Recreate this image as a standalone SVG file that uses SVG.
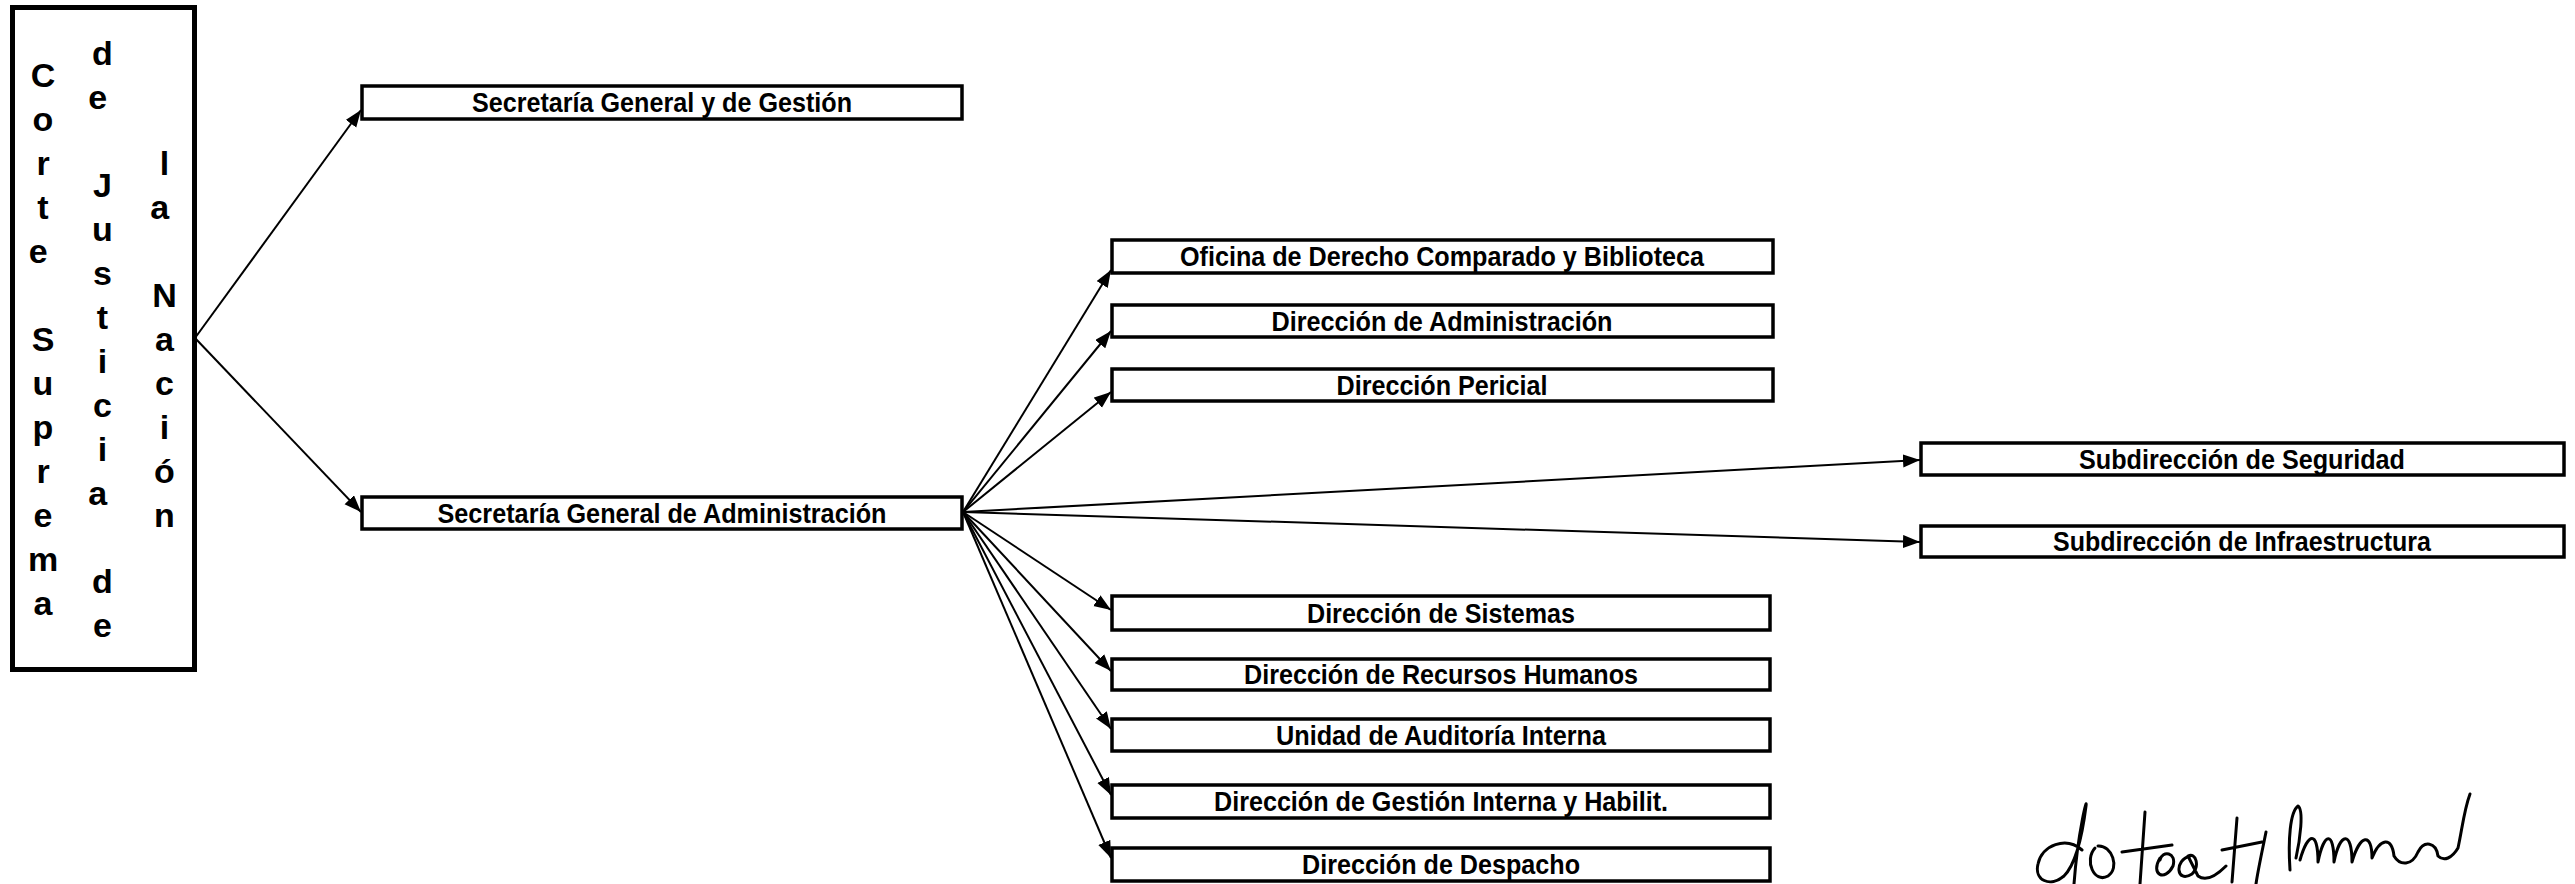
<svg xmlns="http://www.w3.org/2000/svg" width="2575" height="884" viewBox="0 0 2575 884">
<style>
.box{fill:#fff;stroke:#000;stroke-width:3.5}
.lbl{font-family:"Liberation Sans",Arial,sans-serif;font-weight:bold;font-size:28px;fill:#000;text-anchor:middle}
.big{font-family:"Liberation Sans",Arial,sans-serif;font-weight:bold;font-size:34px;fill:#000;text-anchor:middle}
.con{stroke:#000;stroke-width:2;fill:none;marker-end:url(#ah)}
.sig{stroke:#000;stroke-width:3;fill:none;stroke-linecap:round;stroke-linejoin:round}
</style>
<defs>
<marker id="ah" markerUnits="userSpaceOnUse" markerWidth="18" markerHeight="14" refX="17" refY="6.5" orient="auto">
<path d="M0,0 L17,6.5 L0,13 z" fill="#000"/>
</marker>
</defs>
<rect width="2575" height="884" fill="#fff"/>

<g id="connectors">
<line class="con" x1="195" y1="338" x2="361" y2="110"/>
<line class="con" x1="195" y1="338" x2="361" y2="512"/>
<line class="con" x1="963" y1="512" x2="1111" y2="270"/>
<line class="con" x1="963" y1="512" x2="1111" y2="331"/>
<line class="con" x1="963" y1="512" x2="1111" y2="392"/>
<line class="con" x1="963" y1="512" x2="1920" y2="460"/>
<line class="con" x1="963" y1="512" x2="1920" y2="542"/>
<line class="con" x1="963" y1="512" x2="1111" y2="610"/>
<line class="con" x1="963" y1="512" x2="1111" y2="671"/>
<line class="con" x1="963" y1="512" x2="1111" y2="729"/>
<line class="con" x1="963" y1="512" x2="1111" y2="795"/>
<line class="con" x1="963" y1="512" x2="1111" y2="858"/>
</g>

<g id="corte">
<rect x="12.5" y="7.5" width="182" height="662" fill="#fff" stroke="#000" stroke-width="5"/>
<text class="big">
<tspan x="43" y="87">C</tspan><tspan x="43" y="131">o</tspan><tspan x="43" y="175">r</tspan><tspan x="43" y="219">t</tspan><tspan x="43" y="263">e</tspan>
<tspan x="43" y="351">S</tspan><tspan x="43" y="395">u</tspan><tspan x="43" y="439">p</tspan><tspan x="43" y="483">r</tspan><tspan x="43" y="527">e</tspan><tspan x="43" y="571">m</tspan><tspan x="43" y="615">a</tspan>
</text>
<text class="big">
<tspan x="102.5" y="65">d</tspan><tspan x="102.5" y="109">e</tspan>
<tspan x="102.5" y="197">J</tspan><tspan x="102.5" y="241">u</tspan><tspan x="102.5" y="285">s</tspan><tspan x="102.5" y="329">t</tspan><tspan x="102.5" y="373">i</tspan><tspan x="102.5" y="417">c</tspan><tspan x="102.5" y="461">i</tspan><tspan x="102.5" y="505">a</tspan>
<tspan x="102.5" y="593">d</tspan><tspan x="102.5" y="637">e</tspan>
</text>
<text class="big">
<tspan x="164.5" y="175">l</tspan><tspan x="164.5" y="219">a</tspan>
<tspan x="164.5" y="307">N</tspan><tspan x="164.5" y="351">a</tspan><tspan x="164.5" y="395">c</tspan><tspan x="164.5" y="439">i</tspan><tspan x="164.5" y="483">ó</tspan><tspan x="164.5" y="527">n</tspan>
</text>
</g>

<g id="sg-gestion">
<rect class="box" x="362" y="86" width="600" height="33"/>
<text class="lbl" x="662" y="112" textLength="380" lengthAdjust="spacingAndGlyphs">Secretaría General y de Gestión</text>
</g>
<g id="sg-administracion">
<rect class="box" x="362" y="497" width="600" height="32"/>
<text class="lbl" x="662" y="523" textLength="449" lengthAdjust="spacingAndGlyphs">Secretaría General de Administración</text>
</g>
<g id="oficina">
<rect class="box" x="1112" y="240" width="661" height="33"/>
<text class="lbl" x="1442" y="266" textLength="524" lengthAdjust="spacingAndGlyphs">Oficina de Derecho Comparado y Biblioteca</text>
</g>
<g id="dir-admin">
<rect class="box" x="1112" y="305" width="661" height="32"/>
<text class="lbl" x="1442" y="331" textLength="341" lengthAdjust="spacingAndGlyphs">Dirección de Administración</text>
</g>
<g id="dir-pericial">
<rect class="box" x="1112" y="369" width="661" height="32"/>
<text class="lbl" x="1442" y="395" textLength="211" lengthAdjust="spacingAndGlyphs">Dirección Pericial</text>
</g>
<g id="sub-seguridad">
<rect class="box" x="1921" y="443" width="643" height="32"/>
<text class="lbl" x="2242" y="469" textLength="326" lengthAdjust="spacingAndGlyphs">Subdirección de Seguridad</text>
</g>
<g id="sub-infra">
<rect class="box" x="1921" y="526" width="643" height="31"/>
<text class="lbl" x="2242" y="551" textLength="378" lengthAdjust="spacingAndGlyphs">Subdirección de Infraestructura</text>
</g>
<g id="dir-sistemas">
<rect class="box" x="1112" y="596" width="658" height="34"/>
<text class="lbl" x="1441" y="623" textLength="268" lengthAdjust="spacingAndGlyphs">Dirección de Sistemas</text>
</g>
<g id="dir-rrhh">
<rect class="box" x="1112" y="659" width="658" height="31"/>
<text class="lbl" x="1441" y="684" textLength="394" lengthAdjust="spacingAndGlyphs">Dirección de Recursos Humanos</text>
</g>
<g id="auditoria">
<rect class="box" x="1112" y="719" width="658" height="32"/>
<text class="lbl" x="1441" y="745" textLength="330" lengthAdjust="spacingAndGlyphs">Unidad de Auditoría Interna</text>
</g>
<g id="dir-gestion">
<rect class="box" x="1112" y="785" width="658" height="33"/>
<text class="lbl" x="1441" y="811" textLength="454" lengthAdjust="spacingAndGlyphs">Dirección de Gestión Interna y Habilit.</text>
</g>
<g id="dir-despacho">
<rect class="box" x="1112" y="848" width="658" height="33"/>
<text class="lbl" x="1441" y="874" textLength="278" lengthAdjust="spacingAndGlyphs">Dirección de Despacho</text>
</g>

<g id="firma">
<path class="sig" d="M2082,850 C2066,836 2042,845 2038,864 C2034,880 2050,888 2064,876 C2076,864 2082,838 2086,806 C2088,794 2078,830 2074,884"/>
<path class="sig" d="M2095,848 C2084,860 2094,884 2108,876 C2120,868 2112,845 2098,846"/>
<path class="sig" d="M2145,812 L2140,884 M2122,852 L2172,845"/>
<path class="sig" d="M2160,858 C2150,875 2165,882 2173,866 C2177,852 2162,850 2160,860 M2190,856 C2174,860 2176,884 2192,874 C2200,866 2196,852 2188,856 L2198,876 C2206,882 2216,876 2226,866"/>
<path class="sig" d="M2237,818 L2232,882 M2222,850 L2262,842"/>
<path class="sig" d="M2266,832 C2262,852 2258,870 2256,884"/>
<path class="sig" d="M2290,870 C2288,840 2290,812 2298,806 C2304,810 2300,840 2296,858"/>
<path class="sig" d="M2300,860 C2308,832 2318,830 2318,862 C2324,832 2334,830 2334,862 C2340,832 2352,830 2352,862 C2360,834 2372,832 2372,858 C2380,838 2392,836 2394,856 C2400,866 2412,866 2418,852 C2424,840 2436,842 2438,856 C2444,862 2452,858 2458,848 C2462,830 2464,810 2470,794"/>
</g>
</svg>
